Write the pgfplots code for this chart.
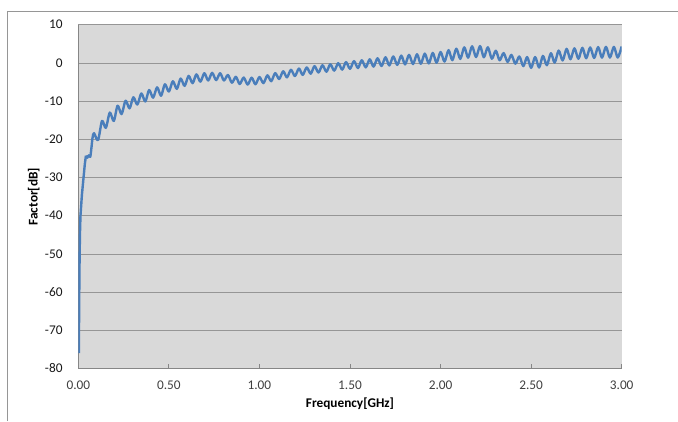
\documentclass[border=0pt]{standalone}
\usepackage{fontspec}
\setmainfont{Carlito}
\usepackage{pgfplots}
\pgfplotsset{compat=1.18}
\usepackage{pgfplotstable}
\definecolor{plotbg}{RGB}{217,217,217}
\definecolor{gridc}{RGB}{150,150,150}
\definecolor{axc}{RGB}{134,134,134}
\definecolor{linec}{RGB}{74,126,187}
\definecolor{framec}{RGB}{150,150,150}

\pgfplotstableread{
f db
0.003 -76
0.005 -62
0.007 -52
0.009 -45
0.012 -40
0.020 -34.5
0.029 -30
0.036 -26.5
0.042 -24.3
}\startline

\pgfplotstableread{
f db
0.042 -24.3
0.050 -24.8
0.058 -24.2
0.066 -24.6
0.073 -22.0
0.079 -19.5
0.087 -18.4
0.109 -20.2
0.131 -15.2
0.152 -17.0
0.174 -13.0
0.196 -15.2
0.217 -11.2
0.239 -13.4
0.261 -9.9
0.283 -11.9
0.304 -9.0
0.326 -10.9
0.348 -8.0
0.370 -10.1
0.391 -7.1
0.413 -9.1
0.435 -6.4
0.457 -8.6
0.478 -5.6
0.500 -7.5
0.522 -4.8
0.544 -6.8
0.565 -4.1
0.587 -6.0
0.609 -3.4
0.631 -5.3
0.652 -3.0
0.674 -4.9
0.696 -2.7
0.717 -4.6
0.739 -2.6
0.761 -4.5
0.783 -2.7
0.804 -4.6
0.826 -3.16
0.848 -5.18
0.870 -3.64
0.891 -5.53
0.913 -3.83
0.935 -5.67
0.957 -3.87
0.978 -5.59
1.000 -3.70
1.022 -5.28
1.044 -3.26
1.065 -4.79
1.087 -2.68
1.109 -4.21
1.131 -2.19
1.152 -3.78
1.174 -1.81
1.196 -3.43
1.218 -1.48
1.239 -3.14
1.261 -1.19
1.283 -2.82
1.304 -0.85
1.326 -2.52
1.348 -0.61
1.370 -2.30
1.391 -0.36
1.413 -2.01
1.435 -0.07
1.457 -1.75
1.478 0.20
1.500 -1.54
1.522 0.47
1.544 -1.35
1.565 0.70
1.587 -1.16
1.609 0.94
1.630 -0.97
1.652 1.21
1.674 -0.80
1.696 1.47
1.717 -0.66
1.739 1.69
1.761 -0.52
1.783 1.91
1.804 -0.39
1.826 2.10
1.848 -0.31
1.870 2.27
1.891 -0.23
1.913 2.43
1.935 -0.14
1.957 2.62
1.978 0.04
2.000 2.85
2.022 0.35
2.044 3.34
2.065 0.72
2.087 3.72
2.109 1.05
2.131 4.08
2.152 1.37
2.174 4.35
2.196 1.53
2.218 4.41
2.239 1.47
2.261 4.10
2.283 1.10
2.305 3.19
2.326 0.69
2.348 2.57
2.370 0.27
2.391 2.09
2.413 -0.20
2.435 1.68
2.457 -0.84
2.478 1.53
2.500 -1.30
2.522 1.54
2.544 -1.21
2.565 1.84
2.587 -0.61
2.609 2.54
2.630 0.08
2.652 3.23
2.674 0.64
2.696 3.68
2.717 0.95
2.739 3.82
2.761 1.08
2.783 3.95
2.804 1.21
2.826 4.05
2.848 1.30
2.870 4.14
2.891 1.38
2.913 4.20
2.935 1.40
2.957 4.20
2.978 1.40
3.000 4.30
}\mainline

\begin{document}
\begin{tikzpicture}
\useasboundingbox (0pt,0pt) rectangle (678pt,421pt);
\draw[framec, line width=0.8pt] (7pt,0pt) -- (7pt,410pt) -- (678pt,410pt);
\begin{axis}[
  at={(78.3pt,52.5pt)}, anchor=south west,
  scale only axis, width=543.4pt, height=343.8pt,
  xmin=0, xmax=3, ymin=-80, ymax=10,
  axis x line*=bottom, axis y line*=left,
  axis line style={axc, line width=0.8pt, -},
  axis background/.style={fill=plotbg},
  xtick={0,0.5,1,1.5,2,2.5,3},
  xticklabels={0.00,0.50,1.00,1.50,2.00,2.50,3.00},
  ytick={-80,-70,-60,-50,-40,-30,-20,-10,0,10},
  yticklabels={-80,-70,-60,-50,-40,-30,-20,-10,0,10},
  ymajorgrids, grid style={gridc, line width=0.8pt},
  major tick length=4.5pt,
  xtick style={axc, line width=0.8pt},
  ytick style={draw=none},
  tick label style={font=\fontsize{13.3}{16}\selectfont, inner sep=0pt},
  xticklabel style={anchor=north, yshift=-12.2pt, text=black!75},
  yticklabel style={anchor=east, xshift=-15.6pt, text=black!90},
  xlabel={Frequency[GHz]}, ylabel={Factor[dB]},
  every axis x label/.style={at={(axis description cs:0.5,-0.114)}, anchor=base, inner sep=0pt, font=\bfseries\fontsize{13.3}{16}\selectfont},
  every axis y label/.style={at={(axis description cs:-0.0747,0.5)}, rotate=90, anchor=base, inner sep=0pt, font=\bfseries\fontsize{13.3}{16}\selectfont},
]
\addplot[linec, line width=2.4pt, line join=round] table {\startline};
\addplot[linec, line width=2.4pt, line join=round, smooth] table {\mainline};
\end{axis}
\end{tikzpicture}
\end{document}
